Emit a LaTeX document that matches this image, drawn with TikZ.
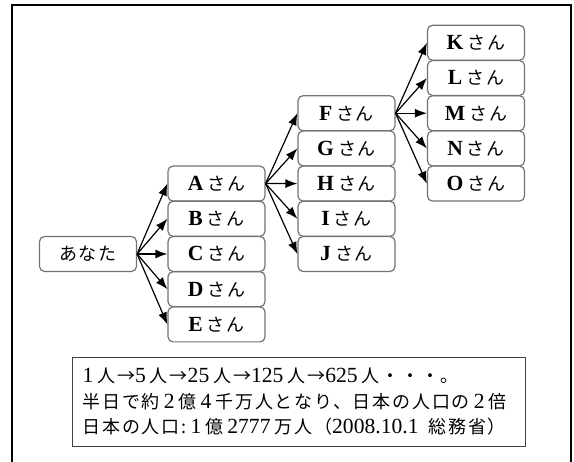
\documentclass[tikz,border=0pt]{standalone}
\usepackage{fontspec}
\setmainfont{Liberation Serif}[Scale=1.2]
\newfontfamily\cjkfont[LetterSpace=10]{Noto Sans CJK JP}
\usetikzlibrary{arrows.meta}
\newcommand{\ja}[1]{{\cjkfont #1}}
\newcommand{\gap}{\hspace{4pt}}
\tikzset{
  person/.style={draw=black!55,line width=1.2pt,rounded corners=5pt,minimum width=97pt,minimum height=35pt,inner sep=0pt,font=\fontsize{18}{18}\selectfont},
  fan/.style={line width=1.2pt,-{Latex[length=12pt,width=9pt]}}
}
\begin{document}
\begin{tikzpicture}[x=1pt,y=-1pt]
  \useasboundingbox (0,0) rectangle (574,462);
  \draw[line width=1.8pt] (12,470) -- (12,5) -- (571,5) -- (571,470);
  % you
  \node[person] (you) at (88,254) {\ja{あなた}};
  % first round
  \foreach \n [count=\i from 0] in {A,B,C,D,E}
    \node[person] (\n) at (216.5,183.6+35.2*\i) {\textbf{\n}\gap\ja{さん}};
  \foreach \n in {A,B,C,D,E}
    \draw[fan] (you.east) -- (\n.west);
  % second round
  \foreach \n [count=\i from 0] in {F,G,H,I,J}
    \node[person] (\n) at (346.5,113.2+35.2*\i) {\textbf{\n}\gap\ja{さん}};
  \foreach \n in {F,G,H,I,J}
    \draw[fan] (A.east) -- (\n.west);
  % third round
  \foreach \n [count=\i from 0] in {K,L,M,N,O}
    \node[person] (\n) at (476,42.8+35.2*\i) {\textbf{\n}\gap\ja{さん}};
  \foreach \n in {K,L,M,N,O}
    \draw[fan] (F.east) -- (\n.west);
  % note
  \node[draw=black!75,line width=1.1pt,anchor=north west,minimum width=453pt,minimum height=89pt,
        inner xsep=10pt,inner ysep=6pt,align=left,text width=433pt,
        font=\fontsize{18}{25.5}\selectfont] (note) at (72,357)
    {1\gap\ja{人→}5\gap\ja{人→}25\gap\ja{人→}125\gap\ja{人→}625\gap\ja{人・・・。}\\
     \ja{半日で約}\gap2\gap\ja{億}\gap4\gap\ja{千万人となり、日本の人口の}\gap2\gap\ja{倍}\\
     \ja{日本の人口:}\gap1\gap\ja{億}\gap2777\gap\ja{万人（}2008.10.1\hspace{10pt}\ja{総務省）}};
\end{tikzpicture}
\end{document}
